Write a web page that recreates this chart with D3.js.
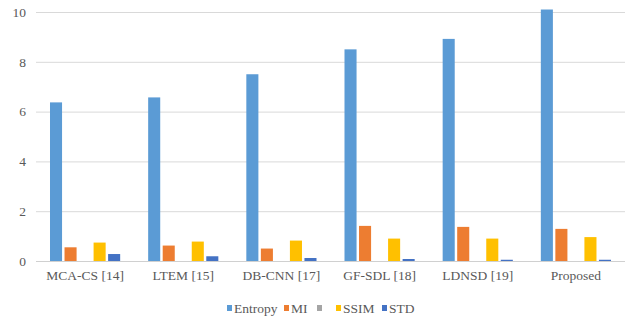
<!DOCTYPE html>
<html>
<head>
<meta charset="utf-8">
<script src="https://cdn.jsdelivr.net/npm/d3@7"></script>
<style>
  html, body { margin: 0; padding: 0; background: #fff; }
  svg { display: block; }
</style>
</head>
<body>
<svg id="chart" width="631" height="323"></svg>
<script>
// Methods compared
const methods = ["MCA-CS [14]", "LTEM [15]", "DB-CNN [17]", "GF-SDL [18]", "LDNSD [19]", "Proposed"];
// Metric series (the unnamed grey series carries no values)
const seriesNames = ["Entropy", "MI", "", "SSIM", "STD"];
const seriesColors = ["#5B9BD5", "#ED7D31", "#A5A5A5", "#FFC000", "#4472C4"];
const entropy = [6.37, 6.57, 7.5, 8.5, 8.92, 10.1];
const mi      = [0.55, 0.62, 0.5, 1.41, 1.37, 1.29];
const blank   = [null, null, null, null, null, null];
const ssim    = [0.74, 0.78, 0.82, 0.9, 0.9, 0.96];
const std     = [0.28, 0.19, 0.12, 0.08, 0.05, 0.05];
const yTicks  = [0, 2, 4, 6, 8, 10];

const seriesValues = [entropy, mi, blank, ssim, std];
const FONT = '"Liberation Serif"';
const TEXT_COLOR = "#595959";

const svg = d3.select("#chart");
const plotLeft = 36, plotRight = 625, plotTop = 12, plotBottom = 261;

const x0 = d3.scaleBand().domain(methods).range([plotLeft, plotRight])
  .paddingInner(0.26).paddingOuter(0.13);
const x1 = d3.scaleBand().domain(d3.range(seriesNames.length)).range([0, x0.bandwidth()])
  .paddingInner(0.17).paddingOuter(0.085);
const y = d3.scaleLinear().domain([0, 10]).range([plotBottom, plotTop]);

// Horizontal gridlines
svg.append("g")
  .selectAll("line")
  .data(yTicks)
  .join("line")
  .attr("x1", plotLeft).attr("x2", plotRight)
  .attr("y1", d => y(d) + 0.5).attr("y2", d => y(d) + 0.5)
  .attr("stroke", "#d9d9d9").attr("stroke-width", 1);

// Y axis labels
const yAxis = d3.axisLeft(y).tickValues(yTicks).tickSize(0).tickPadding(0);
const yG = svg.append("g")
  .attr("transform", `translate(${plotLeft - 10},0)`)
  .call(yAxis)
  .attr("font-family", null).attr("font-size", null);
yG.select(".domain").remove();
yG.selectAll("text")
  .style("font-family", FONT)
  .style("font-size", "13.5px")
  .style("fill", TEXT_COLOR);

// Bars
const groups = svg.append("g")
  .selectAll("g")
  .data(methods)
  .join("g")
  .attr("transform", d => `translate(${x0(d)},0)`);

groups.selectAll("rect")
  .data((m, i) => seriesValues.map((vals, s) => ({ s, v: vals[i] })).filter(d => d.v != null))
  .join("rect")
  .attr("x", d => x1(d.s))
  .attr("width", x1.bandwidth())
  .attr("y", d => y(d.v))
  .attr("height", d => y(0) - y(d.v))
  .attr("fill", d => seriesColors[d.s]);

// Baseline
svg.append("line")
  .attr("x1", plotLeft).attr("x2", plotRight)
  .attr("y1", y(0) + 0.5).attr("y2", y(0) + 0.5)
  .attr("stroke", "#d0d0d0");

// X axis labels
const xAxis = d3.axisBottom(x0).tickSize(0).tickPadding(0);
const xG = svg.append("g")
  .attr("transform", `translate(0,${plotBottom + 9})`)
  .call(xAxis)
  .attr("font-family", null).attr("font-size", null);
xG.select(".domain").remove();
xG.selectAll("text")
  .style("font-family", FONT)
  .style("font-size", "13.5px")
  .style("fill", TEXT_COLOR);

// Legend
const legendX = [227, 284, 317, 336, 382];
const legend = svg.append("g").attr("transform", "translate(0,308)");
const items = legend.selectAll("g")
  .data(seriesNames)
  .join("g")
  .attr("transform", (d, i) => `translate(${legendX[i]},0)`);
items.append("rect")
  .attr("x", 0).attr("y", -3).attr("width", 5).attr("height", 6)
  .attr("fill", (d, i) => seriesColors[i]);
items.append("text")
  .attr("x", 7).attr("y", 0).attr("dy", "0.35em")
  .style("font-family", FONT)
  .style("font-size", "13.5px")
  .style("fill", TEXT_COLOR)
  .text(d => d);
</script>
</body>
</html>
